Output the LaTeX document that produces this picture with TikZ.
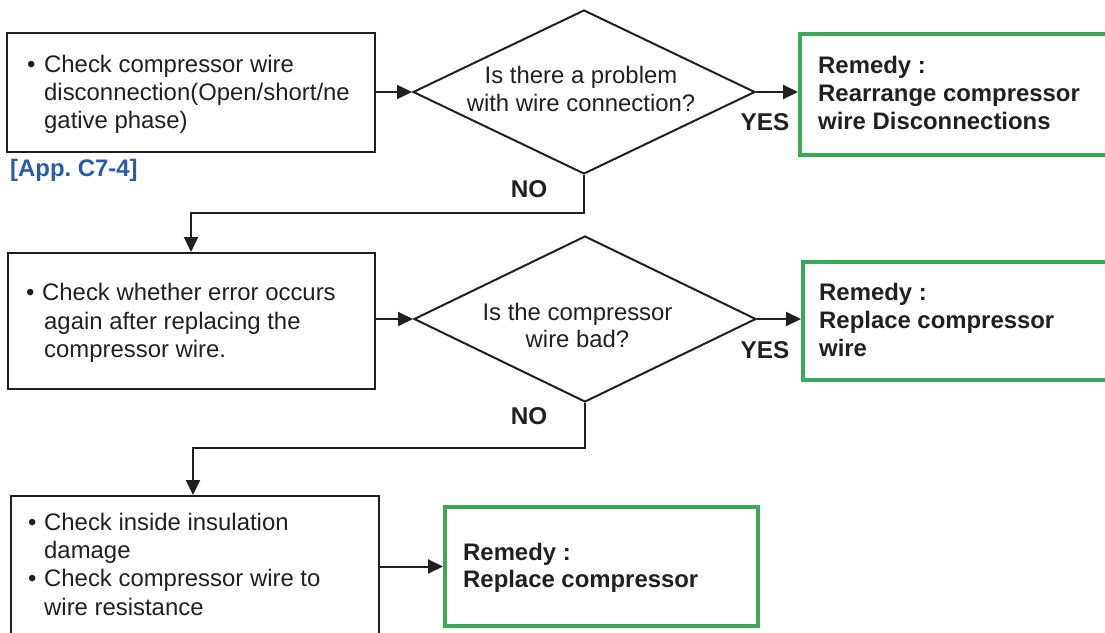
\documentclass[tikz,border=0pt]{standalone}
\usepackage{fontspec}
\setmainfont{Liberation Sans}
\usetikzlibrary{shapes.geometric,arrows.meta,calc}
\definecolor{ink}{RGB}{35,31,32}
\definecolor{grn}{RGB}{58,170,88}
\definecolor{appblue}{RGB}{42,91,168}
\frenchspacing
\begin{document}
\begin{tikzpicture}[x=1pt,y=-1pt,
  box/.style={draw=ink, line width=2pt, rectangle, anchor=north west, inner sep=0pt},
  remedy/.style={draw=grn, line width=4pt, rectangle, anchor=north west, inner sep=0pt},
  decision/.style={draw=ink, line width=2pt, diamond, inner sep=0pt},
  txt/.style={text=ink, inner sep=0pt, align=left, anchor=base west},
  dtxt/.style={text=ink, inner sep=0pt, align=center, anchor=base},
  rtxt/.style={text=ink, inner sep=0pt, align=left, anchor=base west, font=\fontsize{23.9}{28}\selectfont\bfseries},
  yn/.style={text=ink, inner sep=0pt, anchor=base, font=\fontsize{24.3}{28}\selectfont\bfseries},
  flow/.style={draw=ink, line width=2pt, -{Triangle[length=15pt,width=14pt]}},
]
\useasboundingbox (0,0) rectangle (1105,632);
\clip (0,0) rectangle (1105,632);

% boxes
\node[box, minimum width=368pt, minimum height=119pt] (b1) at (6,32) {};
\node[box, minimum width=367pt, minimum height=136pt] (b2) at (7,252) {};
\node[box, minimum width=368pt, minimum height=165pt] (b3) at (10,495) {};
\node[remedy, minimum width=320pt, minimum height=121pt] (g1) at (798,32) {};
\node[remedy, minimum width=320pt, minimum height=118pt] (g2) at (801,260) {};
\node[remedy, minimum width=313pt, minimum height=119pt] (g3) at (443,505) {};
\node[decision, minimum width=342pt, minimum height=164pt] (d1) at (584,92) {};
\node[decision, minimum width=342pt, minimum height=166pt] (d2) at (585,319) {};

% texts (anchor = baseline of the last line)
\node[txt, font=\fontsize{23.9}{28}\selectfont] (t1) at (27,128)
  {\makebox[17pt][l]{\textbullet}Check compressor wire\\
   \hspace*{17pt}disconnection(Open/short/ne\\
   \hspace*{17pt}gative phase)};
\node[txt, font=\fontsize{23.9}{28.5}\selectfont] (t2) at (26,357.5)
  {\makebox[16pt][l]{\textbullet}Check whether error occurs\\
   \hspace*{18pt}again after replacing the\\
   \hspace*{18pt}compressor wire.};
\node[txt, font=\fontsize{23.9}{28.3}\selectfont] (t3) at (28,615)
  {\makebox[16pt][l]{\textbullet}Check inside insulation\\
   \hspace*{16pt}damage\\
   \makebox[16pt][l]{\textbullet}Check compressor wire to\\
   \hspace*{16pt}wire resistance};
\node[text=appblue, inner sep=0pt, anchor=base west, font=\fontsize{23.9}{28}\selectfont\bfseries] (app) at (10,176) {[App.\ C7-4]};
\node[dtxt, font=\fontsize{23.9}{28}\selectfont] (d1t) at (581,111) {Is there a problem\\with wire connection?};
\node[dtxt, font=\fontsize{23.9}{27}\selectfont] (d2t) at (577.5,347) {Is the compressor\\wire bad?};
\node[rtxt] (g1t) at (818,129) {Remedy :\\Rearrange compressor\\wire Disconnections};
\node[rtxt, font=\fontsize{23.9}{28.3}\selectfont\bfseries] (g2t) at (819,356.6) {Remedy :\\Replace compressor\\wire};
\node[rtxt, font=\fontsize{23.9}{27.7}\selectfont\bfseries] (g3t) at (463,587.7) {Remedy :\\Replace compressor};
\node[yn] (yes1) at (765,130) {YES};
\node[yn] (yes2) at (765,358) {YES};
\node[yn] (no1) at (529,197) {NO};
\node[yn] (no2) at (529,424) {NO};

% connectors
\coordinate (n1) at (191,213);
\coordinate (n2) at (193,448);
\draw[flow] (b1.east |- d1.west) -- (d1.west);
\draw[flow] (d1.east) -- (d1.east -| g1.west);
\draw[flow] (d1.south) |- (n1) -- (n1 |- b2.north);
\draw[flow] (b2.east |- d2.west) -- (d2.west);
\draw[flow] (d2.east) -- (d2.east -| g2.west);
\draw[flow] (d2.south) |- (n2) -- (n2 |- b3.north);
\draw[flow] (b3.east |- g3.west) -- (g3.west);
\end{tikzpicture}
\end{document}
